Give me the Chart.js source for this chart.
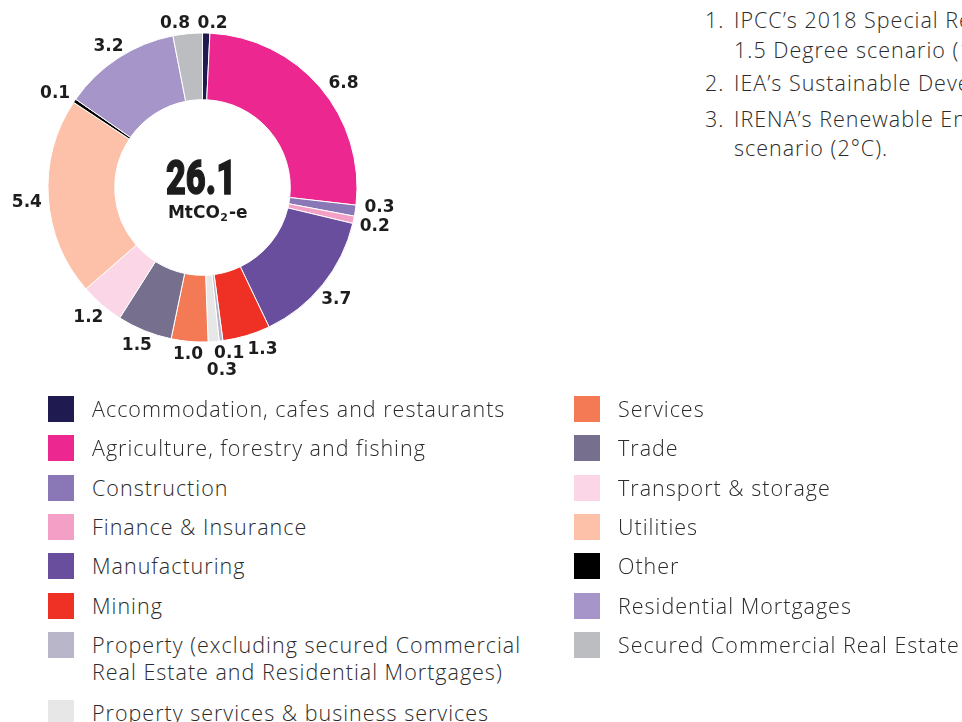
<!DOCTYPE html>
<html>
<head>
<meta charset="utf-8">
<script src="https://cdn.jsdelivr.net/npm/chart.js@4/dist/chart.umd.min.js"></script>
<style>
  html, body { margin: 0; padding: 0; background: #fff; }
  body { width: 962px; height: 722px; position: relative; overflow: hidden; }
  #wrap { position: absolute; left: 0; top: 0; width: 420px; height: 400px; }
  .txt { font-family: "Open Sans", sans-serif; font-weight: 300; font-size: 21.5px; letter-spacing: 1px; color: #2b2b2b; white-space: nowrap; }
  .notes { position: absolute; left: 705px; top: 0; }
  .note { position: absolute; left: 0; white-space: nowrap; }
  .note .n { position: absolute; left: 0; }
  .note .t { position: absolute; left: 29px; }
  .leg { position: absolute; }
  .leg .sw { position: absolute; left: 0; top: 0; width: 26px; height: 26px; }
  .leg .lb { position: absolute; left: 44px; top: -1px; line-height: 27px; }
</style>
</head>
<body>
<div id="wrap"><canvas id="c" width="420" height="400"></canvas></div>
<div class="notes txt" id="notes"></div>
<div id="legend"></div>
<script>
// Lending-book financed emissions by sector (MtCO2-e)
const sectors = [
  "Accommodation, cafes and restaurants",
  "Agriculture, forestry and fishing",
  "Construction",
  "Finance & Insurance",
  "Manufacturing",
  "Mining",
  "Property (excluding secured Commercial Real Estate and Residential Mortgages)",
  "Property services & business services",
  "Services",
  "Trade",
  "Transport & storage",
  "Utilities",
  "Other",
  "Residential Mortgages",
  "Secured Commercial Real Estate"
];
const emissions = [0.2, 6.8, 0.3, 0.2, 3.7, 1.3, 0.1, 0.3, 1.0, 1.5, 1.2, 5.4, 0.1, 3.2, 0.8];
const totalLabel = "26.1";
const unitLabel = ["MtCO", "2", "-e"];

const sectorColors = [
  "#1f1a4f", "#ec2890", "#8a78b6", "#f4a0c6", "#6a4e9e", "#ee3124", "#b9b6c9", "#e7e7e8",
  "#f47a56", "#76708e", "#fbd6e7", "#fcc1a8", "#000000", "#a695c8", "#bcbdc0"
];

// legend text lines (the long property label wraps onto two lines)
const legendLeft = [
  ["Accommodation, cafes and restaurants"],
  ["Agriculture, forestry and fishing"],
  ["Construction"],
  ["Finance & Insurance"],
  ["Manufacturing"],
  ["Mining"],
  ["Property (excluding secured Commercial", "Real Estate and Residential Mortgages)"],
  ["Property services & business services"]
];
const legendRight = [
  ["Services"], ["Trade"], ["Transport & storage"], ["Utilities"],
  ["Other"], ["Residential Mortgages"], ["Secured Commercial Real Estate"]
];

const notes = [
  ["1.", ["IPCC\u2019s 2018 Special Report on Global Warming of", "1.5 Degree scenario (1.5\u00b0C)."]],
  ["2.", ["IEA\u2019s Sustainable Development Scenario (<2\u00b0C)."]],
  ["3.", ["IRENA\u2019s Renewable Energy Roadmap (REmap)", "scenario (2\u00b0C)."]]
];

// ---- layout ----
const labelRadius = 172;
// small per-label shifts so neighbouring value labels do not collide
const labelNudge = [
  [6, 8], [10, 7], [7, -6], [4, 3], [0, 4], [11, -3], [6, -5], [7, 12],
  [0, -4], [-1, -1], [-2, 0], [-4, 4], [-5, 3], [0, 3], [-11, 7]
];

const valueLabels = {
  id: "valueLabels",
  afterDatasetsDraw(chart) {
    const ctx = chart.ctx;
    const meta = chart.getDatasetMeta(0);
    ctx.save();
    ctx.font = "bold 17px 'DejaVu Sans'";
    ctx.fillStyle = "#1f1c1d";
    ctx.textAlign = "center";
    ctx.textBaseline = "middle";
    meta.data.forEach((arc, i) => {
      const p = arc.getProps(["x", "y", "startAngle", "endAngle"], true);
      const mid = (p.startAngle + p.endAngle) / 2;
      const x = p.x + labelRadius * Math.cos(mid) + labelNudge[i][0];
      const y = p.y + labelRadius * Math.sin(mid) + labelNudge[i][1];
      ctx.fillText(emissions[i].toFixed(1), x, y);
    });
    ctx.restore();
  }
};

const centerTotal = {
  id: "centerTotal",
  afterDraw(chart) {
    const ctx = chart.ctx;
    const arc = chart.getDatasetMeta(0).data[0];
    const cx = arc.x, cy = arc.y;
    ctx.save();
    ctx.fillStyle = "#1c1c1c";
    // condensed heavy figure
    ctx.translate(cx - 1.5, cy + 6);
    ctx.scale(0.7, 1);
    ctx.font = "900 49px Roboto";
    ctx.textAlign = "center";
    ctx.textBaseline = "alphabetic";
    ctx.lineWidth = 1.4;
    ctx.strokeStyle = "#1c1c1c";
    ctx.fillText(totalLabel, 0, 0);
    ctx.strokeText(totalLabel, 0, 0);
    ctx.restore();

    ctx.save();
    ctx.fillStyle = "#1c1c1c";
    ctx.textBaseline = "alphabetic";
    const big = "bold 17px 'DejaVu Sans'";
    const small = "bold 11px 'DejaVu Sans'";
    ctx.font = big;
    const w0 = ctx.measureText(unitLabel[0]).width;
    const w2 = ctx.measureText(unitLabel[2]).width;
    ctx.font = small;
    const w1 = ctx.measureText(unitLabel[1]).width + 1;
    let x = cx + 5 - (w0 + w1 + w2) / 2;
    const base = cy + 30;
    ctx.font = big;
    ctx.fillText(unitLabel[0], x, base);
    x += w0 + 0.5;
    ctx.font = small;
    ctx.fillText(unitLabel[1], x, base + 3);
    x += w1;
    ctx.font = big;
    ctx.fillText(unitLabel[2], x, base);
    ctx.restore();
  }
};

new Chart(document.getElementById("c"), {
  type: "doughnut",
  data: {
    labels: sectors,
    datasets: [{
      data: emissions,
      backgroundColor: sectorColors,
      borderColor: "#ffffff",
      borderWidth: 1
    }]
  },
  options: {
    responsive: false,
    animation: false,
    radius: 154.5,
    cutout: 87.5,
    layout: { padding: { left: 48, right: 63, top: 33, bottom: 58 } },
    plugins: { legend: { display: false }, tooltip: { enabled: false } }
  },
  plugins: [valueLabels, centerTotal]
});

// ---- footnotes (top right) ----
const noteTops = [[5, 35], [68], [104, 133]];
const notesEl = document.getElementById("notes");
notes.forEach((nt, i) => {
  nt[1].forEach((line, j) => {
    const d = document.createElement("div");
    d.className = "note";
    d.style.top = noteTops[i][j] + "px";
    if (j === 0) {
      const n = document.createElement("span");
      n.className = "n"; n.textContent = nt[0];
      d.appendChild(n);
    }
    const t = document.createElement("span");
    t.className = "t"; t.textContent = line;
    d.appendChild(t);
    notesEl.appendChild(d);
  });
});

// ---- legend ----
const legendEl = document.getElementById("legend");
function addLegendColumn(items, colorOffset, left, tops) {
  items.forEach((lines, i) => {
    const row = document.createElement("div");
    row.className = "leg txt";
    row.style.left = left + "px";
    row.style.top = tops[i] + "px";
    const sw = document.createElement("div");
    sw.className = "sw";
    sw.style.background = sectorColors[colorOffset + i];
    row.appendChild(sw);
    const lb = document.createElement("div");
    lb.className = "lb";
    lb.innerHTML = lines.join("<br>");
    row.appendChild(lb);
    legendEl.appendChild(row);
  });
}
addLegendColumn(legendLeft, 0, 48, [396, 435, 475, 514, 553, 593, 632, 700]);
addLegendColumn(legendRight, 8, 574, [396, 435, 475, 514, 553, 593, 632]);
</script>
</body>
</html>
